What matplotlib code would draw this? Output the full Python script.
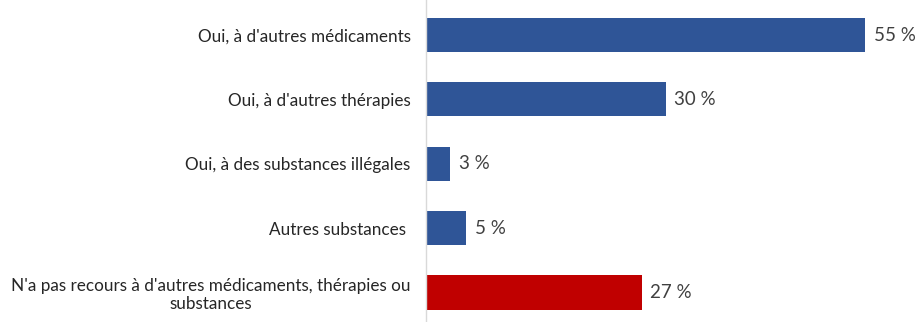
import matplotlib
matplotlib.use("Agg")
import matplotlib.pyplot as plt

categories = [
    "Oui, à d'autres médicaments",
    "Oui, à d'autres thérapies",
    "Oui, à des substances illégales",
    "Autres substances ",
    "N'a pas recours à d'autres médicaments, thérapies ou\nsubstances",
]
values = [55, 30, 3, 5, 27]
value_labels = ["55 %", "30 %", "3 %", "5 %", "27 %"]
colors = ["#2F5597", "#2F5597", "#2F5597", "#2F5597", "#C00000"]

plt.rcParams["font.family"] = ["Lato", "DejaVu Sans"]

fig = plt.figure(figsize=(9.19, 3.22), dpi=100)
ax = fig.add_axes([426 / 919, 0, 479 / 919, 1])

ypos = list(range(len(categories)))
ax.barh(ypos, values, height=0.53, color=colors)

for y, v, lab in zip(ypos, values, value_labels):
    ax.text(v + 1.1, y, lab, va="center", ha="left", fontsize=13.5, color="#404040")

ax.set_xlim(0, 60)
ax.set_ylim(4.458, -0.544)
ax.set_yticks(ypos)
ax.set_yticklabels(categories, fontsize=12.3, color="#262626",
                   multialignment="center", linespacing=1.15)
ax.tick_params(axis="y", length=0, pad=11)
ax.set_xticks([])

for side in ["top", "right", "bottom"]:
    ax.spines[side].set_visible(False)
ax.spines["left"].set_color("#D9D9D9")
ax.spines["left"].set_linewidth(1)

fig.savefig("out.png", dpi=100, facecolor="white")
